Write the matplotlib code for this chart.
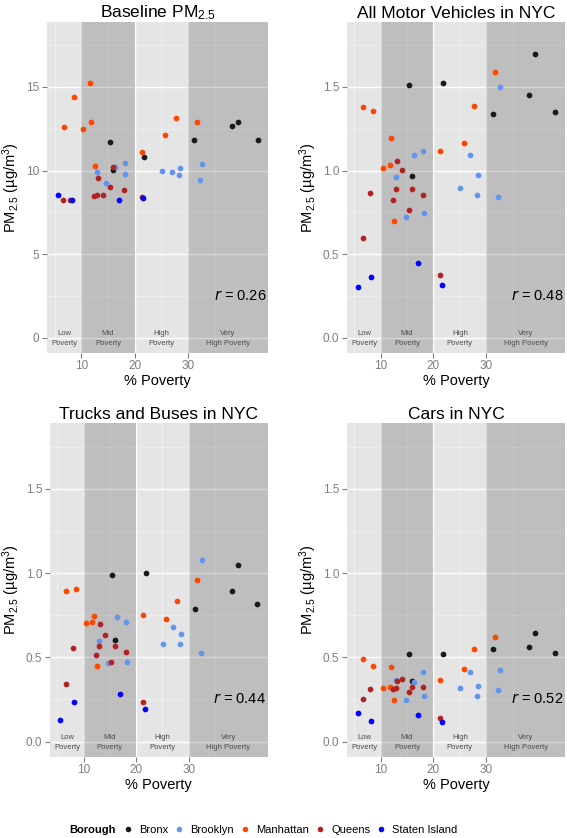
import matplotlib
matplotlib.use("Agg")
import matplotlib.pyplot as plt
from matplotlib.lines import Line2D

plt.rcParams['font.family'] = ['Liberation Sans', 'DejaVu Sans']
plt.rcParams['mathtext.default'] = 'regular'

# % poverty of each neighbourhood, by borough
bronx_pov = [15.4, 16.0, 21.8, 31.2, 38.2, 39.3, 43.0]
brooklyn_pov = [12.9, 14.7, 16.3, 18.1, 18.2, 25.1, 27.0, 28.5, 28.3, 32.6, 32.3]
manhattan_pov = [6.7, 8.6, 10.4, 11.7, 11.9, 12.5, 21.3, 25.7, 27.7, 31.6]
queens_pov = [6.6, 7.9, 12.3, 12.9, 13.1, 14.0, 15.3, 15.9, 18.0, 21.3]
staten_pov = [5.6, 8.2, 17.0, 21.6]

# baseline PM2.5
bronx_base = [11.68, 10.03, 10.80, 11.84, 12.64, 12.90, 11.84]
brooklyn_base = [9.89, 9.27, 10.19, 10.47, 9.80, 9.95, 9.93, 10.17, 9.71, 10.39, 9.43]
manhattan_base = [12.62, 14.40, 12.46, 15.26, 12.92, 10.27, 11.12, 12.14, 13.16, 12.92]
queens_base = [8.25, 8.23, 8.45, 8.53, 9.53, 8.53, 9.03, 10.23, 8.81, 8.39]
staten_base = [8.55, 8.23, 8.21, 8.37]

# all motor vehicles
bronx_all = [1.512, 0.966, 1.526, 1.340, 1.455, 1.696, 1.348]
brooklyn_all = [0.964, 0.723, 1.095, 1.119, 0.745, 0.897, 1.091, 0.972, 0.856, 1.498, 0.840]
manhattan_all = [1.381, 1.356, 1.014, 1.036, 1.194, 0.696, 1.119, 1.162, 1.385, 1.589]
queens_all = [0.595, 0.866, 0.822, 0.889, 1.055, 1.004, 0.767, 0.891, 0.854, 0.375]
staten_all = [0.302, 0.364, 0.445, 0.316]

# trucks and buses
bronx_trucks = [0.991, 0.602, 1.003, 0.788, 0.894, 1.047, 0.819]
brooklyn_trucks = [0.596, 0.469, 0.742, 0.707, 0.473, 0.578, 0.679, 0.641, 0.578, 1.075, 0.528]
manhattan_trucks = [0.893, 0.904, 0.701, 0.710, 0.746, 0.447, 0.754, 0.730, 0.833, 0.962]
queens_trucks = [0.342, 0.556, 0.513, 0.568, 0.695, 0.631, 0.473, 0.568, 0.530, 0.234]
staten_trucks = [0.129, 0.237, 0.283, 0.196]

# cars
bronx_cars = [0.518, 0.362, 0.520, 0.552, 0.562, 0.647, 0.526]
brooklyn_cars = [0.364, 0.249, 0.352, 0.410, 0.271, 0.317, 0.410, 0.329, 0.273, 0.424, 0.307]
manhattan_cars = [0.489, 0.449, 0.315, 0.325, 0.445, 0.245, 0.366, 0.433, 0.550, 0.623]
queens_cars = [0.252, 0.310, 0.310, 0.320, 0.360, 0.372, 0.294, 0.322, 0.322, 0.141]
staten_cars = [0.168, 0.123, 0.160, 0.117]

boroughs = ['Bronx', 'Brooklyn', 'Manhattan', 'Queens', 'Staten Island']
colors = ['#1a1a1a', '#6495ed', '#ff4500', '#b22222', '#0000ff']
poverty = [bronx_pov, brooklyn_pov, manhattan_pov, queens_pov, staten_pov]

titles = ['Baseline PM$_{2.5}$', 'All Motor Vehicles in NYC',
          'Trucks and Buses in NYC', 'Cars in NYC']
panel_values = [
    [bronx_base, brooklyn_base, manhattan_base, queens_base, staten_base],
    [bronx_all, brooklyn_all, manhattan_all, queens_all, staten_all],
    [bronx_trucks, brooklyn_trucks, manhattan_trucks, queens_trucks, staten_trucks],
    [bronx_cars, brooklyn_cars, manhattan_cars, queens_cars, staten_cars],
]
r_values = ['0.26', '0.48', '0.44', '0.52']

band_edges = [10, 20, 30]
band_labels = ['Low\nPoverty', 'Mid\nPoverty', 'High\nPoverty', 'Very\nHigh Poverty']
band_centers = [6.9, 15, 25, 37.5]

positions = [
    [0.083, 0.579, 0.390, 0.395],
    [0.612, 0.579, 0.385, 0.395],
    [0.088, 0.097, 0.384, 0.398],
    [0.612, 0.097, 0.385, 0.398],
]

fig = plt.figure(figsize=(5.67, 8.38), dpi=100)

for i in range(4):
    ax = fig.add_axes(positions[i])
    ax.set_facecolor('#e5e5e5')
    for s in ax.spines.values():
        s.set_visible(False)

    if i == 0:
        ymax, yticks, ylabels, minor = 18, [0, 5, 10, 15], ['0', '5', '10', '15'], [2.5, 7.5, 12.5, 17.5]
    else:
        ymax, yticks, ylabels, minor = 1.8, [0, 0.5, 1.0, 1.5], ['0.0', '0.5', '1.0', '1.5'], [0.25, 0.75, 1.25, 1.75]
    pad = ymax * 0.05
    ax.set_ylim(-pad, ymax + pad)
    ax.set_xlim(3.6, 45.0)

    ax.set_yticks(yticks)
    ax.set_yticklabels(ylabels)
    ax.set_yticks(minor, minor=True)
    ax.set_xticks([10, 20, 30])
    ax.set_xticks([5, 15, 25, 35], minor=True)
    ax.grid(True, which='major', color='white', linewidth=1.0, zorder=0)
    ax.grid(True, which='minor', color='#f2f2f2', linewidth=0.5, zorder=0)
    ax.set_axisbelow(True)
    ax.tick_params(which='major', colors='#7f7f7f', labelsize=8.5, length=3.5, width=0.8, pad=2)
    ax.tick_params(which='minor', length=0)

    # darker shading for the mid and very-high poverty bands
    ax.axvspan(band_edges[0], band_edges[1], color='black', alpha=0.17, lw=0, zorder=1)
    ax.axvspan(band_edges[2], 50, color='black', alpha=0.17, lw=0, zorder=1)

    for c, txt in zip(band_centers, band_labels):
        ax.text(c, -0.003 * ymax, txt, ha='center', va='center', fontsize=5.5,
                color='#4d4d4d', linespacing=1.5, zorder=2)

    for b in range(5):
        ax.scatter(poverty[b], panel_values[i][b], s=17, color=colors[b], lw=0, zorder=3)

    ax.text(44.6, 0.14 * ymax, r'$\mathit{r}$ = ' + r_values[i], ha='right', va='center',
            fontsize=10.5, zorder=4)

    ax.set_title(titles[i], fontsize=12.5, pad=3)
    ax.set_xlabel('% Poverty', fontsize=10.5, labelpad=1)
    ax.set_ylabel('PM$_{2.5}$ (µg/m$^3$)', fontsize=10.5, labelpad=3)

handles = [Line2D([], [], ls='none', marker='o', markersize=4, color=c, markeredgewidth=0)
           for c in colors]
fig.text(69 / 567, 0.0098, 'Borough', fontsize=8, weight='bold', va='center')
fig.legend(handles, boroughs, loc='center left', bbox_to_anchor=(122 / 567, 0.0098),
           ncol=5, frameon=False, fontsize=8, handlelength=1.0, handletextpad=0.5,
           columnspacing=0.5, borderpad=0, borderaxespad=0)

fig.savefig('out.png', dpi=100)
